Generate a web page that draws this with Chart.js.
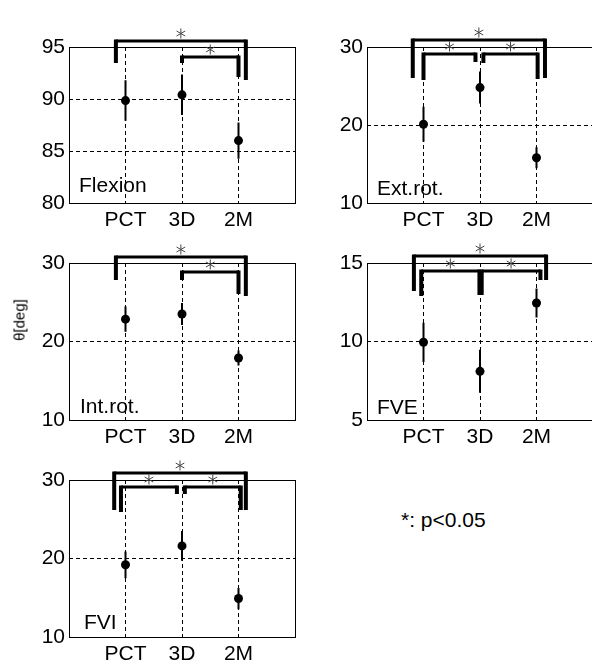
<!DOCTYPE html>
<html>
<head>
<meta charset="utf-8">
<script src="https://cdn.jsdelivr.net/npm/chart.js@4/dist/chart.umd.min.js"></script>
<style>
  html, body { margin: 0; padding: 0; background: #fff; }
  body { width: 592px; height: 660px; overflow: hidden; position: relative; font-family: "Liberation Sans", Arial, sans-serif; }
  canvas { position: absolute; }
  #ylabel { position: absolute; left: 19px; top: 320px; font-size: 15px; line-height: 1; white-space: nowrap;
            transform: translate(-50%, -50%) rotate(-90deg); }
  #note { position: absolute; left: 401px; top: 509px; font-size: 21px; line-height: 1; white-space: nowrap; }
</style>
</head>
<body>
<canvas id="c1" width="300" height="235" style="left:0;top:0"></canvas>
<canvas id="c2" width="302" height="235" style="left:298px;top:0"></canvas>
<canvas id="c3" width="300" height="236" style="left:0;top:216px"></canvas>
<canvas id="c4" width="302" height="236" style="left:298px;top:216px"></canvas>
<canvas id="c5" width="300" height="236" style="left:0;top:433px"></canvas>
<div id="ylabel">θ[deg]</div>
<div id="note">*: p&lt;0.05</div>
<script>
const categories = ['PCT', '3D', '2M'];

// mean and error bar half-length
const flexionMean = [89.85, 90.4, 86.0];
const flexionErr  = [1.95, 1.95, 1.75];
const flexionTicks = [80, 85, 90, 95];
const flexionSig = [['PCT', '2M'], ['3D', '2M']];

const extRotMean = [20.1, 24.8, 15.8];
const extRotErr  = [2.25, 2.05, 1.35];
const extRotTicks = [10, 20, 30];
const extRotSig = [['PCT', '2M'], ['PCT', '3D'], ['3D', '2M']];

const intRotMean = [22.85, 23.5, 17.9];
const intRotErr  = [1.6, 1.4, 0.95];
const intRotTicks = [10, 20, 30];
const intRotSig = [['PCT', '2M'], ['3D', '2M']];

const fveMean = [9.95, 8.1, 12.45];
const fveErr  = [1.25, 1.37, 0.92];
const fveTicks = [5, 10, 15];
const fveSig = [['PCT', '2M'], ['PCT', '3D'], ['3D', '2M']];

const fviMean = [19.2, 21.6, 14.9];
const fviErr  = [1.7, 1.9, 1.35];
const fviTicks = [10, 20, 30];
const fviSig = [['PCT', '2M'], ['PCT', '3D'], ['3D', '2M']];

const FONT = '"Liberation Sans", Arial, sans-serif';

// bracket drawing layout: x nudges (category units) and y offsets in px from plot top
const bracketLayout = {
  c1: [{ dl: -0.17, dr: 0.13, bar: -6, legL: 16, legR: 33 }, { dl: 0, dr: 0, bar: 10, legL: 16, legR: 30 }],
  c2: [{ dl: -0.19, dr: 0.15, bar: -7, legL: 31, legR: 31 }, { dl: 0, dr: -0.08, bar: 7, legL: 33, legR: 15 }, { dl: 0.06, dr: 0.02, bar: 7, legL: 16, legR: 32 }],
  c3: [{ dl: -0.17, dr: 0.13, bar: -6, legL: 17, legR: 33 }, { dl: 0, dr: 0, bar: 9, legL: 17, legR: 31 }],
  c4: [{ dl: -0.17, dr: 0.17, bar: -7, legL: 28, legR: 17 }, { dl: -0.04, dr: -0.01, bar: 8, legL: 33, legR: 32 }, { dl: 0.03, dr: 0.07, bar: 8, legL: 32, legR: 17 }],
  c5: [{ dl: -0.2, dr: 0.13, bar: -7, legL: 30, legR: 30 }, { dl: -0.08, dr: -0.09, bar: 7, legL: 32, legR: 14 }, { dl: 0.05, dr: 0.04, bar: 7, legL: 14, legR: 30 }]
};

const panels = [
  { id: 'c1', name: 'Flexion', mean: flexionMean, err: flexionErr, ticks: flexionTicks, sig: flexionSig, padRight: 5, nameX: 10, nameY: 11 },
  { id: 'c2', name: 'Ext.rot.', mean: extRotMean, err: extRotErr, ticks: extRotTicks, sig: extRotSig, padRight: 7, nameX: 10, nameY: 8 },
  { id: 'c3', name: 'Int.rot.', mean: intRotMean, err: intRotErr, ticks: intRotTicks, sig: intRotSig, padRight: 5, nameX: 11, nameY: 7 },
  { id: 'c4', name: 'FVE', mean: fveMean, err: fveErr, ticks: fveTicks, sig: fveSig, padRight: 7, nameX: 10, nameY: 6 },
  { id: 'c5', name: 'FVI', mean: fviMean, err: fviErr, ticks: fviTicks, sig: fviSig, padRight: 5, nameX: 15, nameY: 8 }
];

const decor = {
  id: 'decor',
  afterDraw(chart, args, opts) {
    const { ctx, chartArea: a, scales: { x } } = chart;
    ctx.save();
    // frame
    ctx.strokeStyle = '#000';
    ctx.lineWidth = 1;
    ctx.setLineDash([]);
    ctx.strokeRect(Math.round(a.left) + 0.5, Math.round(a.top) + 0.5, Math.round(a.right - a.left), Math.round(a.bottom - a.top));
    // panel name
    ctx.fillStyle = '#000';
    ctx.font = '21px ' + FONT;
    ctx.textBaseline = 'alphabetic';
    ctx.fillText(opts.name, a.left + opts.nameX, a.bottom - opts.nameY);
    // significance brackets
    opts.sig.forEach((pair, k) => {
      const g = opts.layout[k];
      const x1 = x.getPixelForValue(categories.indexOf(pair[0]) + 1 + g.dl);
      const x2 = x.getPixelForValue(categories.indexOf(pair[1]) + 1 + g.dr);
      const yb = a.top + g.bar;
      ctx.strokeStyle = '#000';
      ctx.lineCap = 'butt';
      ctx.lineJoin = 'miter';
      ctx.lineWidth = 3;
      ctx.beginPath();
      ctx.moveTo(x1, yb);
      ctx.lineTo(x2, yb);
      ctx.stroke();
      ctx.lineWidth = 4;
      ctx.beginPath();
      ctx.moveTo(x1, yb - 1.5);
      ctx.lineTo(x1, a.top + g.legL);
      ctx.moveTo(x2, yb - 1.5);
      ctx.lineTo(x2, a.top + g.legR);
      ctx.stroke();
      // asterisk
      const cx = (x1 + x2) / 2, cy = yb - 7.5, r = 5;
      ctx.strokeStyle = '#444';
      ctx.lineWidth = 1;
      ctx.beginPath();
      for (let t = 0; t < 3; t++) {
        const ang = Math.PI / 2 + t * Math.PI / 3;
        ctx.moveTo(cx - r * Math.cos(ang), cy - r * Math.sin(ang));
        ctx.lineTo(cx + r * Math.cos(ang), cy + r * Math.sin(ang));
      }
      ctx.stroke();
    });
    ctx.restore();
  }
};

panels.forEach(p => {
  const pts = p.mean.map((m, i) => ({ x: i + 1, y: m }));
  const bars = [];
  p.mean.forEach((m, i) => {
    bars.push({ x: i + 1, y: m - p.err[i] }, { x: i + 1, y: m + p.err[i] }, { x: i + 1, y: null });
  });
  const tickFont = { size: 21, family: FONT };
  new Chart(document.getElementById(p.id), {
    type: 'scatter',
    data: {
      datasets: [
        { data: pts, pointRadius: 4.5, pointBackgroundColor: '#000', pointBorderWidth: 0 },
        { data: bars, showLine: true, spanGaps: false, borderColor: '#000', borderWidth: 2, pointRadius: 0 }
      ]
    },
    options: {
      responsive: false,
      animation: false,
      events: [],
      layout: { padding: { top: 47, right: p.padRight, left: 0, bottom: 0 } },
      plugins: {
        legend: { display: false },
        tooltip: { enabled: false },
        decor: { name: p.name, sig: p.sig, layout: bracketLayout[p.id], nameX: p.nameX, nameY: p.nameY }
      },
      scales: {
        x: {
          type: 'linear', min: 0, max: 4,
          afterBuildTicks: s => { s.ticks = categories.map((c, i) => ({ value: i + 1 })); },
          afterFit: s => { s.height = 32; },
          ticks: { callback: v => categories[v - 1], color: '#000', font: tickFont, padding: 5, maxRotation: 0, autoSkip: false },
          grid: { color: '#000', lineWidth: 1, drawTicks: false },
          border: { display: false, dash: [4, 3] }
        },
        y: {
          min: p.ticks[0], max: p.ticks[p.ticks.length - 1],
          afterBuildTicks: s => { s.ticks = p.ticks.map(v => ({ value: v })); },
          afterFit: s => { s.width = 69; },
          ticks: { color: '#000', font: tickFont, padding: 4 },
          grid: { color: '#000', lineWidth: 1, drawTicks: false },
          border: { display: false, dash: [4, 3] }
        }
      }
    },
    plugins: [decor]
  });
});
</script>
</body>
</html>
